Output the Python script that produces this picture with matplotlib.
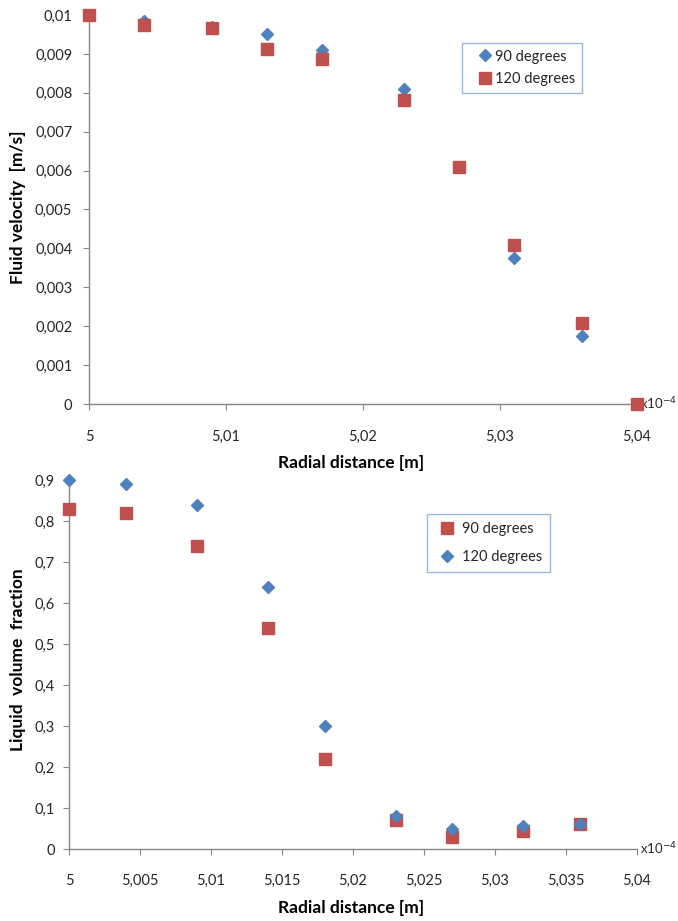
import matplotlib
matplotlib.use("Agg")
import matplotlib.pyplot as plt
from matplotlib.ticker import FuncFormatter, MultipleLocator

plt.rcParams['font.family'] = ['Lato', 'DejaVu Sans']

# Radial distance (x 10^-4 m)
r_vel = [5.0, 5.004, 5.009, 5.013, 5.017, 5.023, 5.027, 5.031, 5.036, 5.04]
vel_90 = [0.0100, 0.00985, 0.0097, 0.0095, 0.0091, 0.0081, 0.0061, 0.00375, 0.00175, 0.0]
vel_120 = [0.0100, 0.00975, 0.00966, 0.00912, 0.00886, 0.00782, 0.0061, 0.0041, 0.00209, 0.0]

r_frac = [5.0, 5.004, 5.009, 5.014, 5.018, 5.023, 5.027, 5.032, 5.036]
frac_90 = [0.83, 0.82, 0.74, 0.54, 0.22, 0.07, 0.03, 0.045, 0.06]
frac_120 = [0.90, 0.89, 0.84, 0.64, 0.30, 0.08, 0.05, 0.055, 0.06]

BLUE = '#4F81BD'
RED = '#C0504D'
AXIS = '#868686'
TXT = '#262626'


def comma(v, pos):
    s = ('%.3f' % v).rstrip('0').rstrip('.')
    return s.replace('.', ',')


def style_axes(ax, xpad, ypad):
    for s in ['top', 'right']:
        ax.spines[s].set_visible(False)
    for s in ['left', 'bottom']:
        ax.spines[s].set_color(AXIS)
        ax.spines[s].set_linewidth(1.0)
    ax.tick_params(axis='x', direction='out', length=4, color=AXIS,
                   labelsize=10.5, labelcolor=TXT, pad=xpad)
    ax.tick_params(axis='y', direction='out', length=4, color=AXIS,
                   labelsize=10.5, labelcolor=TXT, pad=ypad)
    ax.xaxis.set_major_formatter(FuncFormatter(comma))
    ax.yaxis.set_major_formatter(FuncFormatter(comma))


fig = plt.figure(figsize=(6.78, 9.21), dpi=100)

# top: fluid velocity
ax1 = fig.add_axes([89 / 678, 1 - 404 / 921, (637 - 89) / 678, (404 - 15) / 921])
ax1.plot(r_vel, vel_90, 'D', color=BLUE, ms=6.5, label='90 degrees', clip_on=False, zorder=3)
ax1.plot(r_vel, vel_120, 's', color=RED, ms=8.5, label='120 degrees', clip_on=False, zorder=4)
ax1.set_xlim(5.0, 5.04)
ax1.set_ylim(0, 0.01)
ax1.xaxis.set_major_locator(MultipleLocator(0.01))
ax1.yaxis.set_major_locator(MultipleLocator(0.001))
style_axes(ax1, 15, 8)
leg1 = ax1.legend(loc='upper left', bbox_to_anchor=((462 - 89) / 548, (404 - 43) / 389),
                  frameon=True, fancybox=False, fontsize=10.5, handletextpad=-0.4,
                  handlelength=2.2, borderpad=0.45, labelspacing=0.6, borderaxespad=0)
leg1.get_frame().set_edgecolor('#7EA6D8')
leg1.get_frame().set_linewidth(1.0)
for t in leg1.get_texts():
    t.set_color(TXT)
ax1.text(1.005, 0.0, 'x10$^{-4}$', transform=ax1.transAxes, fontsize=9.5,
         color=TXT, ha='left', va='center')
fig.text(351 / 678, 1 - 463 / 921, 'Radial distance [m]', ha='center', va='center',
         fontsize=12.5, fontweight='bold', color='black')
fig.text(18 / 678, 1 - 207 / 921, 'Fluid velocity  [m/s]', ha='center', va='center',
         rotation=90, fontsize=12.5, fontweight='bold', color='black')

# bottom: liquid volume fraction
ax2 = fig.add_axes([69 / 678, 1 - 849 / 921, (637 - 69) / 678, (849 - 480) / 921])
ax2.plot(r_frac, frac_90, 's', color=RED, ms=8.5, label='90 degrees', clip_on=False, zorder=3)
ax2.plot(r_frac, frac_120, 'D', color=BLUE, ms=6.5, label='120 degrees', clip_on=False, zorder=4)
ax2.set_xlim(5.0, 5.04)
ax2.set_ylim(0, 0.9)
ax2.xaxis.set_major_locator(MultipleLocator(0.005))
ax2.yaxis.set_major_locator(MultipleLocator(0.1))
style_axes(ax2, 14, 6)
leg2 = ax2.legend(loc='upper left', bbox_to_anchor=((427 - 69) / 568, (849 - 514) / 369),
                  frameon=True, fancybox=False, fontsize=10.5, handletextpad=0.15,
                  handlelength=1.7, borderpad=0.55, labelspacing=0.95, borderaxespad=0)
leg2.get_frame().set_edgecolor('#7EA6D8')
leg2.get_frame().set_linewidth(1.0)
for t in leg2.get_texts():
    t.set_color(TXT)
ax2.text(1.005, 0.0, 'x10$^{-4}$', transform=ax2.transAxes, fontsize=9.5,
         color=TXT, ha='left', va='center')
fig.text(351 / 678, 1 - 908 / 921, 'Radial distance [m]', ha='center', va='center',
         fontsize=12.5, fontweight='bold', color='black')
fig.text(18 / 678, 1 - 660 / 921, 'Liquid  volume  fraction', ha='center', va='center',
         rotation=90, fontsize=12.5, fontweight='bold', color='black')

fig.savefig('out.png', dpi=100)
